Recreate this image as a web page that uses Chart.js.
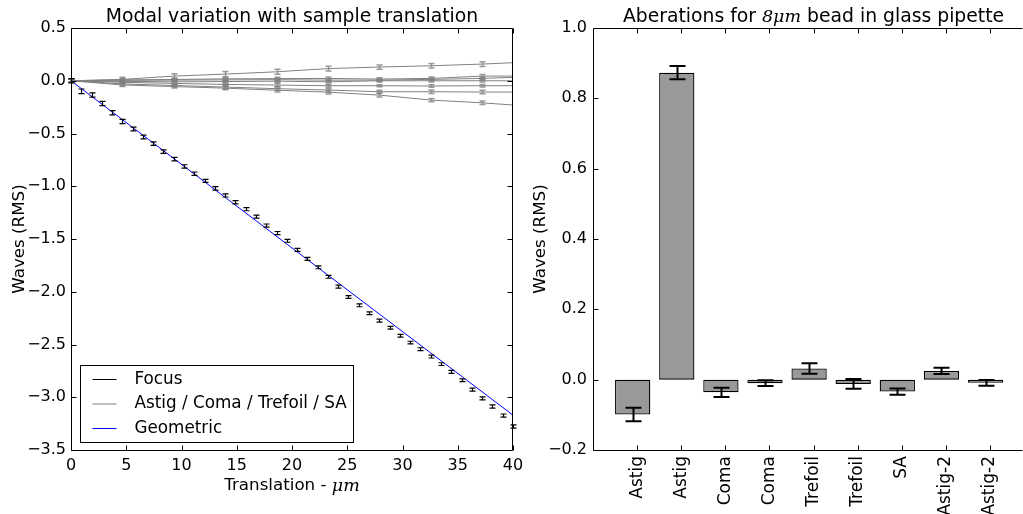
<!DOCTYPE html>
<html>
<head>
<meta charset="utf-8">
<script src="https://cdn.jsdelivr.net/npm/chart.js@4.4.1/dist/chart.umd.min.js"></script>
<style>
  body { margin: 0; background: #fff; width: 1023px; height: 514px; overflow: hidden; position: relative; }
  canvas { position: absolute; top: 0; }
  #modalChart { left: 0; }
  #aberrationChart { left: 530px; }
</style>
</head>
<body>
<canvas id="modalChart" width="530" height="514"></canvas>
<canvas id="aberrationChart" width="493" height="514"></canvas>
<script>
// --- DATA: left panel ---
const translation = [0, 0.93, 1.86, 2.79, 3.72, 4.65, 5.58, 6.51, 7.44, 8.37, 9.3, 10.23, 11.16, 12.09,
  13.02, 13.95, 14.88, 15.81, 16.74, 17.67, 18.6, 19.53, 20.46, 21.39, 22.32, 23.25, 24.18, 25.11,
  26.04, 26.97, 27.9, 28.83, 29.76, 30.69, 31.62, 32.55, 33.48, 34.41, 35.34, 36.27, 37.2, 38.13,
  39.06, 39.99];
const focusValues = [0.00, -0.10, -0.135, -0.215, -0.304, -0.387, -0.458, -0.533, -0.596, -0.672,
  -0.743, -0.812, -0.881, -0.949, -1.020, -1.087, -1.152, -1.217, -1.288, -1.373, -1.444, -1.517,
  -1.603, -1.688, -1.768, -1.858, -1.952, -2.050, -2.128, -2.203, -2.274, -2.342, -2.417, -2.482,
  -2.545, -2.614, -2.686, -2.760, -2.839, -2.927, -3.011, -3.088, -3.174, -3.277];
const focusErrors = [0.02, 0.022, 0.021, 0.02, 0.02, 0.02, 0.018, 0.018, 0.017, 0.017, 0.016, 0.016,
  0.016, 0.015, 0.016, 0.015, 0.016, 0.015, 0.015, 0.015, 0.015, 0.014, 0.015, 0.014, 0.014, 0.014,
  0.014, 0.013, 0.014, 0.013, 0.014, 0.013, 0.013, 0.013, 0.014, 0.014, 0.013, 0.014, 0.013, 0.014,
  0.014, 0.015, 0.015, 0.016];

// other modes, sampled where the error bars are drawn (plus the end of the line)
const modeX = [0, 4.65, 9.3, 13.95, 18.6, 23.25, 27.9, 32.55, 37.2, 39.99];
const astig1 = [0, 0.013, 0.044, 0.063, 0.085, 0.115, 0.13, 0.142, 0.158, 0.171];
const astig2 = [0, 0.008, 0.012, 0.018, 0.02, 0.022, 0.016, 0.022, 0.044, 0.044];
const coma1 = [0, -0.015, -0.025, -0.035, -0.041, -0.047, -0.047, -0.05, -0.047, -0.047];
const coma2 = [0, 0.004, 0.006, 0.008, 0.01, 0.006, 0.006, 0.013, 0.022, 0.032];
const trefoil1 = [0, -0.03, -0.045, -0.06, -0.075, -0.088, -0.104, -0.104, -0.107, -0.107];
const trefoil2 = [0, -0.006, -0.01, -0.008, -0.004, -0.01, 0, 0, 0, 0];
const sa = [0, -0.04, -0.055, -0.07, -0.09, -0.108, -0.136, -0.183, -0.209, -0.23];
const astig1Err = [0.015, 0.02, 0.022, 0.024, 0.024, 0.022, 0.02, 0.022, 0.022, null];
const astig2Err = [0.015, 0.012, 0.012, 0.012, 0.012, 0.014, 0.012, 0.014, 0.015, null];
const coma1Err = [0.015, 0.012, 0.012, 0.012, 0.014, 0.012, 0.01, 0.012, 0.012, null];
const coma2Err = [0.015, 0.01, 0.01, 0.01, 0.012, 0.012, 0.01, 0.01, 0.014, null];
const trefoil1Err = [0.015, 0.014, 0.014, 0.015, 0.016, 0.018, 0.015, 0.016, 0.016, null];
const trefoil2Err = [0.015, 0.012, 0.012, 0.012, 0.012, 0.012, 0.012, 0.012, 0.012, null];
const saErr = [0.015, 0.014, 0.014, 0.015, 0.016, 0.018, 0.018, 0.015, 0.016, null];

const geometricX = [0, 40];
const geometricY = [0, -3.17];

const legendLabels = ['Focus', 'Astig / Coma / Trefoil / SA', 'Geometric'];

// --- DATA: right panel ---
const modeNames = ['Astig', 'Astig', 'Coma', 'Coma', 'Trefoil', 'Trefoil', 'SA', 'Astig-2', 'Astig-2'];
const aberrationValues = [-0.099, 0.873, -0.036, -0.010, 0.032, -0.012, -0.034, 0.025, -0.009];
const aberrationErrors = [0.019, 0.019, 0.013, 0.008, 0.015, 0.014, 0.009, 0.009, 0.008];

// --- STYLE ---
const FONT = 'DejaVu Sans';
const MATH_FONT = 'italic 17.5px "DejaVu Serif"';
const GRAY = '#808080';

const fmtTick = v => (v < -1e-9 ? '\u2212' : '') + Math.abs(v).toFixed(1);
const pts = (xs, ys) => xs.map((x, i) => ({ x: x, y: ys[i] }));

// draws error bars for a dataset right after it is drawn
const errorBars = {
  id: 'errorBars',
  afterDatasetDraw(chart, args) {
    const ds = chart.data.datasets[args.index];
    if (!ds.errors) return;
    const { ctx, scales: { x, y } } = chart;
    ctx.save();
    ctx.strokeStyle = ds.errorColor;
    ctx.lineWidth = ds.errorWidth;
    ctx.beginPath();
    ds.data.forEach((p, i) => {
      const e = ds.errors[i];
      if (e == null) return;
      const px = Math.round(x.getPixelForValue(p.x)) + 0.5;
      const top = y.getPixelForValue(p.y + e);
      const bot = y.getPixelForValue(p.y - e);
      const c = ds.capHalf;
      ctx.moveTo(px, top); ctx.lineTo(px, bot);
      ctx.moveTo(px - c, top); ctx.lineTo(px + c, top);
      ctx.moveTo(px - c, bot); ctx.lineTo(px + c, bot);
    });
    ctx.stroke();
    ctx.restore();
  }
};

// matplotlib-classic frame: box plus inward ticks on every side
const frameTicks = {
  id: 'frameTicks',
  afterDraw(chart, args, opts) {
    const { ctx, chartArea: a, scales: { x, y } } = chart;
    const L = Math.round(a.left) + 0.5, R = Math.round(a.right) - 0.5;
    const T = Math.round(a.top) + 0.5, B = Math.round(a.bottom) + 0.5;
    ctx.save();
    ctx.strokeStyle = '#000';
    ctx.lineWidth = 1;
    ctx.beginPath();
    ctx.moveTo(R, T); ctx.lineTo(L, T); ctx.lineTo(L, B); ctx.lineTo(R, B);
    if (opts.rightSpine) { ctx.lineTo(R, T); }
    const len = 5;
    x.ticks.forEach(t => {
      const px = Math.round(x.getPixelForValue(t.value)) + 0.5;
      if (px < L || px > R + 1) return;
      ctx.moveTo(px, B); ctx.lineTo(px, B - len);
      ctx.moveTo(px, T); ctx.lineTo(px, T + len);
    });
    y.ticks.forEach(t => {
      const py = Math.round(y.getPixelForValue(t.value)) + 0.5;
      ctx.moveTo(L, py); ctx.lineTo(L + len, py);
      if (opts.rightSpine) { ctx.moveTo(R, py); ctx.lineTo(R - len, py); }
    });
    ctx.stroke();
    ctx.restore();
  }
};

// text made of plain and math (italic serif) pieces
function drawMixed(ctx, parts, cx, cy, plainFont) {
  ctx.save();
  ctx.textBaseline = 'middle';
  ctx.fillStyle = '#000';
  let total = 0;
  parts.forEach(p => { ctx.font = p.math ? MATH_FONT : plainFont; total += ctx.measureText(p.text).width; });
  let xPos = cx - total / 2;
  ctx.textAlign = 'left';
  parts.forEach(p => {
    ctx.font = p.math ? MATH_FONT : plainFont;
    ctx.fillText(p.text, xPos, cy);
    xPos += ctx.measureText(p.text).width;
  });
  ctx.restore();
}

const panelText = {
  id: 'panelText',
  afterDraw(chart, args, opts) {
    const { ctx, chartArea: a, scales: { x } } = chart;
    const cx = opts.titleCenter != null ? x.getPixelForValue(opts.titleCenter) : (a.left + a.right) / 2;
    drawMixed(ctx, opts.title, cx, 17, '18.8px "' + FONT + '"');
    if (opts.xTitle) drawMixed(ctx, opts.xTitle, (a.left + a.right) / 2, 486, '16.7px "' + FONT + '"');
  }
};

const boxLegend = {
  id: 'boxLegend',
  afterDraw(chart, args, opts) {
    if (!opts.labels) return;
    const { ctx, chartArea: a } = chart;
    const left = Math.round(a.left) + 9.5, bottom = Math.round(a.bottom) - 7.5;
    const w = 273, h = 77, top = bottom - h;
    ctx.save();
    ctx.fillStyle = '#fff';
    ctx.fillRect(left, top, w, h);
    ctx.strokeStyle = '#000';
    ctx.lineWidth = 1;
    ctx.strokeRect(left, top, w, h);
    ctx.font = '16.8px "' + FONT + '"';
    ctx.textBaseline = 'middle';
    ctx.fillStyle = '#000';
    opts.labels.forEach((lab, i) => {
      const yy = top + 14 + i * 24.5;
      ctx.strokeStyle = opts.colors[i];
      ctx.beginPath();
      ctx.moveTo(left + 12, yy); ctx.lineTo(left + 36, yy);
      ctx.stroke();
      ctx.fillText(lab, left + 54, yy);
    });
    ctx.restore();
  }
};

// --- LEFT CHART ---
function modeDataset(label, ys, errs) {
  return {
    label: label, data: pts(modeX, ys), showLine: true, borderColor: GRAY, borderWidth: 1,
    pointRadius: 0, errors: errs, errorColor: 'rgba(128,128,128,0.8)', errorWidth: 1.5, capHalf: 3
  };
}

new Chart(document.getElementById('modalChart'), {
  type: 'scatter',
  data: {
    datasets: [
      { label: 'Focus', data: pts(translation, focusValues), showLine: false, pointRadius: 0,
        borderColor: '#000', errors: focusErrors, errorColor: '#000', errorWidth: 1.2, capHalf: 3 },
      modeDataset('Astig', astig1, astig1Err),
      modeDataset('Astig', astig2, astig2Err),
      modeDataset('Coma', coma1, coma1Err),
      modeDataset('Coma', coma2, coma2Err),
      modeDataset('Trefoil', trefoil1, trefoil1Err),
      modeDataset('Trefoil', trefoil2, trefoil2Err),
      modeDataset('SA', sa, saErr),
      { label: 'Geometric', data: pts(geometricX, geometricY), showLine: true, borderColor: '#0000ff',
        borderWidth: 1, pointRadius: 0 }
    ]
  },
  options: {
    responsive: false, animation: false, devicePixelRatio: 1,
    layout: { padding: { top: 28, right: 17, left: 0, bottom: 0 } },
    plugins: {
      legend: { display: false }, tooltip: { enabled: false },
      panelText: { title: [{ text: 'Modal variation with sample translation' }],
        xTitle: [{ text: 'Translation - ' }, { text: '\u03bcm', math: true }] },
      boxLegend: { labels: legendLabels, colors: ['#000', GRAY, '#0000ff'] },
      frameTicks: { rightSpine: true }
    },
    scales: {
      x: {
        type: 'linear', min: 0, max: 40,
        grid: { display: false, drawTicks: false }, border: { display: false },
        ticks: { stepSize: 5, padding: 6, color: '#000', font: { family: FONT, size: 16 }, callback: v => String(v) },
        afterFit: s => { s.height = 64; }
      },
      y: {
        min: -3.5, max: 0.5,
        grid: { display: false, drawTicks: false }, border: { display: false },
        ticks: { stepSize: 0.5, padding: 5, color: '#000', font: { family: FONT, size: 16 }, callback: fmtTick },
        title: { display: true, text: 'Waves (RMS)', color: '#000', font: { family: FONT, size: 16.7 }, padding: { top: 10, bottom: 0 } },
        afterFit: s => { s.width = 71; }
      }
    }
  },
  plugins: [errorBars, frameTicks, panelText, boxLegend]
});

// --- RIGHT CHART ---
new Chart(document.getElementById('aberrationChart'), {
  type: 'bar',
  data: {
    datasets: [{
      label: 'Aberations',
      data: aberrationValues.map((v, i) => ({ x: i + 0.4, y: v })),
      backgroundColor: '#999999', borderColor: '#000', borderWidth: 1.3, borderSkipped: false,
      categoryPercentage: 1.0, barPercentage: 0.8,
      errors: aberrationErrors, errorColor: '#000', errorWidth: 2, capHalf: 8
    }]
  },
  options: {
    responsive: false, animation: false, devicePixelRatio: 1,
    layout: { padding: { top: 28, right: 0, left: 0, bottom: 0 } },
    plugins: {
      legend: { display: false }, tooltip: { enabled: false },
      panelText: { title: [{ text: 'Aberations for ' }, { text: '8\u03bcm', math: true }, { text: ' bead in glass pipette' }],
        titleCenter: 4.5 },
      frameTicks: { rightSpine: false }
    },
    scales: {
      x: {
        type: 'linear', min: -0.5, max: 9.25, offset: false,
        grid: { display: false, drawTicks: false, offset: false }, border: { display: false },
        afterBuildTicks: s => { s.ticks = modeNames.map((n, i) => ({ value: i + 0.5 })); },
        ticks: { autoSkip: false, minRotation: 90, maxRotation: 90, padding: 6, color: '#000',
          font: { family: FONT, size: 17 }, callback: (v, i) => modeNames[i] },
        afterFit: s => { s.height = 64; }
      },
      y: {
        min: -0.2, max: 1.0,
        grid: { display: false, drawTicks: false }, border: { display: false },
        ticks: { stepSize: 0.2, padding: 6, color: '#000', font: { family: FONT, size: 16 }, callback: fmtTick },
        title: { display: true, text: 'Waves (RMS)', color: '#000', font: { family: FONT, size: 16.7 }, padding: { top: 1, bottom: 0 } },
        afterFit: s => { s.width = 63; }
      }
    }
  },
  plugins: [errorBars, frameTicks, panelText]
});
</script>
</body>
</html>
